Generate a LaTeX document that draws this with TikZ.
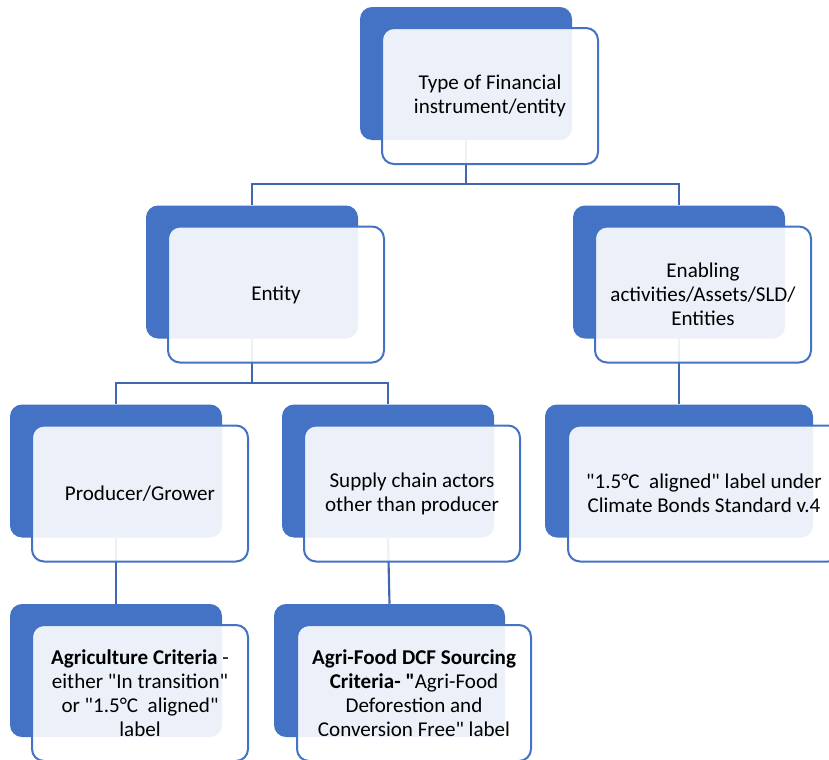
\documentclass[tikz,border=0pt]{standalone}
\usepackage{fontspec}
\setmainfont{Carlito}[Ligatures=TeXOff]
\usepackage{xcolor}
\usetikzlibrary{positioning,calc}
\definecolor{cbBlue}{HTML}{4472C4}
\definecolor{cbLine}{HTML}{3F68B0}

\begin{document}
\begin{tikzpicture}[x=0.75pt, y=-0.75pt, font=\fontsize{15.8}{18}\selectfont,
  back/.style={fill=cbBlue, rounded corners=9pt, inner sep=0pt, minimum width=#1, minimum height=99.75pt},
  back/.default=159pt,
  front/.style={draw=cbBlue, line width=1.5pt, fill=white, fill opacity=0.9, text opacity=1, rounded corners=9pt, align=center, inner sep=2pt, minimum width=#1, minimum height=102pt},
  front/.default=162pt,
  link/.style={draw=cbLine, line width=1.6pt}]
\useasboundingbox (0,0) rectangle (829,760);
\clip (0,0) rectangle (829,760);
\fill[white] (0,0) rectangle (829,760);
% back panels
\node[back] (top) at (466,73.5) {};
\node[back] (ent) at (252,272) {};
\node[back] (ena) at (679,272) {};
\node[back] (pro) at (116,471) {};
\node[back] (sup) at (388,471) {};
\node[back=201pt] (cbs) at (679,471) {};
\node[back] (agr) at (116,670.5) {};
\node[back=173.25pt] (dcf) at (389.5,670.5) {};
% connectors
\foreach \a/\b in {top/ent,top/ena,ent/pro,ent/sup}\draw[link] (\a.south) -- ++(0,44) -| (\b.north);
\foreach \a/\b in {pro/agr,sup/dcf}\draw[link] (\a.south) -- (\b.north);
\draw[link] (ena.south) -- (cbs.north);
% front cards
\node[front] (topF) at ($(top)+(24,22.5)$) {Type of Financial\\instrument/entity};
\node[front] (entF) at ($(ent)+(24,22.5)$) {Entity};
\node[front] (enaF) at ($(ena)+(24,22.5)$) {Enabling\\activities/Assets/SLD/\\Entities};
\node[front] (proF) at ($(pro)+(24,22.5)$) {Producer/Grower};
\node[front] (supF) at ($(sup)+(24,22.5)$) {Supply chain actors\\other than producer};
\node[front=204pt] (cbsF) at ($(cbs)+(25,22.5)$) {"1.5°C\ \ aligned" label under\\Climate Bonds Standard v.4};
\node[front] (agrF) at ($(agr)+(24,22.5)$) {\textbf{Agriculture Criteria} -\\either "In transition"\\or "1.5°C\ \ aligned"\\label};
\node[front=175.5pt] (dcfF) at ($(dcf)+(24.5,22.5)$) {\textbf{Agri-Food DCF Sourcing}\\\textbf{Criteria- "}Agri-Food\\Deforestion and\\Conversion Free" label};
\end{tikzpicture}
\end{document}
